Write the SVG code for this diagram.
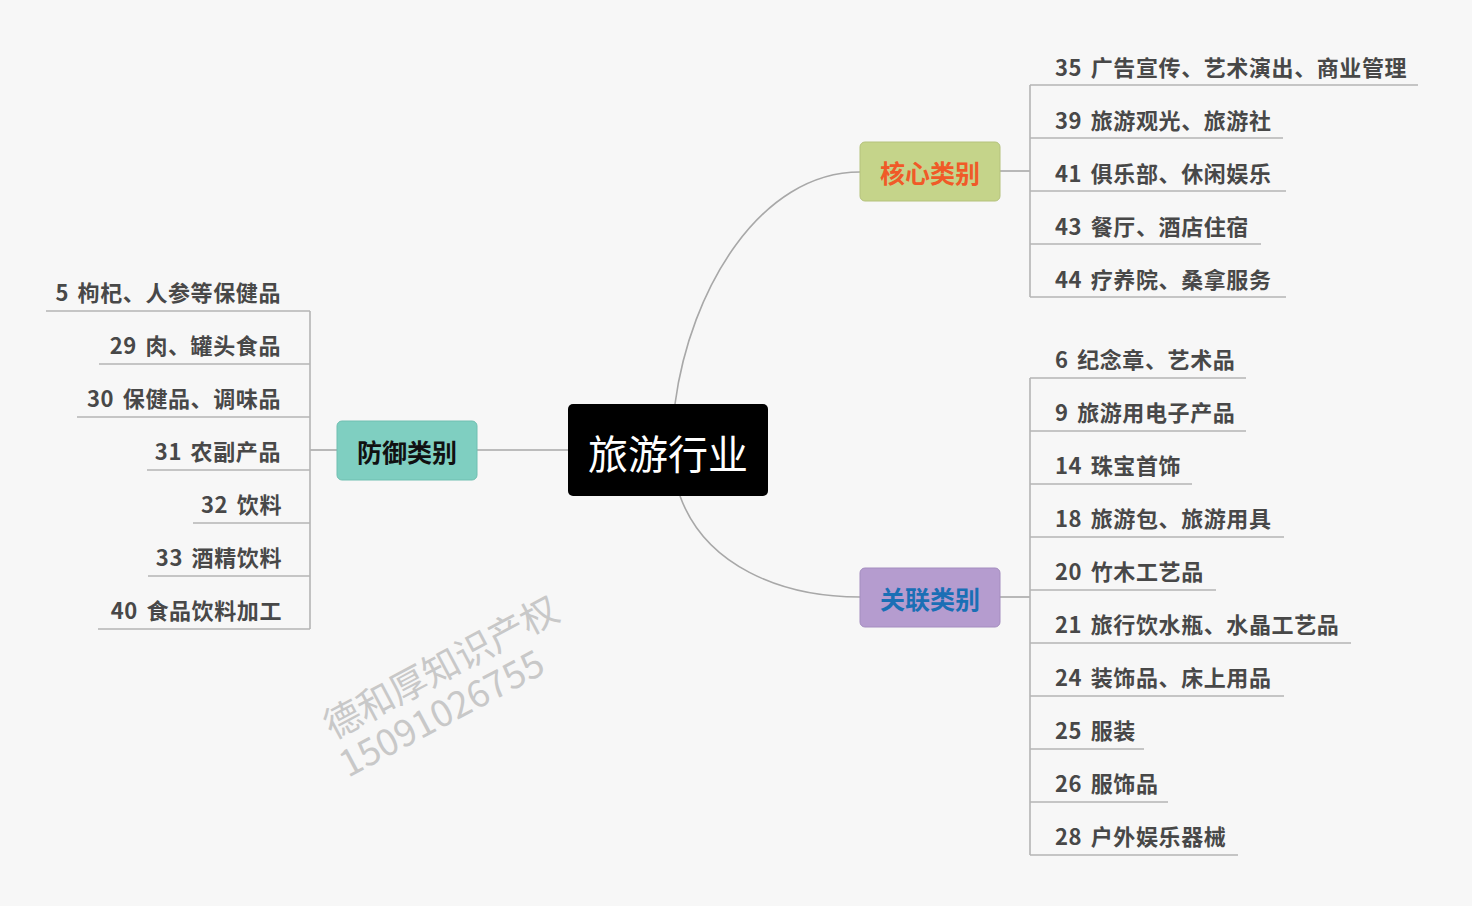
<svg xmlns="http://www.w3.org/2000/svg" width="1472" height="906" viewBox="0 0 1472 906">
<style>
.t{font-family:"Noto Sans CJK SC","Noto Sans",sans-serif;font-weight:bold;font-size:22px;fill:#484848;letter-spacing:0.6px;word-spacing:3px}
.n{font-family:"Noto Sans CJK SC","Noto Sans",sans-serif;font-weight:bold;font-size:25px;text-anchor:middle;dominant-baseline:central}
.l{fill:none;stroke:#b4b4b4;stroke-width:1.6}
.c{fill:none;stroke:#a8a8a8;stroke-width:1.6}
</style>
<rect width="1472" height="906" fill="#f7f7f7"/>
<g id="connectors">
<path class="c" d="M675,404 C690,290 760,172 860,172"/>
<path class="c" d="M680,496 C705,565 780,597 860,597"/>
<path class="c" d="M477,450 H568"/>
<path class="c" d="M1000,171 H1030"/>
<path class="c" d="M1000,597 H1030"/>
<path class="c" d="M310,450 H337"/>
<path class="l" d="M1030,297 V85 M1030,378 V855 M310,311 V629"/>
</g>
<g id="center"><rect x="568" y="404" width="200" height="92" rx="5" fill="#000"/><text x="668" y="452" class="n" style="fill:#fff;font-weight:normal;font-size:40px">旅游行业</text></g>
<g id="core"><rect x="860" y="142" width="140" height="59" rx="5" fill="#c5d48a" stroke="#b5c27c"/><text x="930" y="172" class="n" fill="#f05a28">核心类别</text></g>
<g id="related"><rect x="860" y="568" width="140" height="59" rx="5" fill="#b59ccf" stroke="#a48dbf"/><text x="930" y="598" class="n" fill="#1a6fb5">关联类别</text></g>
<g id="defense"><rect x="337" y="421" width="140" height="59" rx="5" fill="#7fcfc1" stroke="#70bfb1"/><text x="407" y="451" class="n" fill="#111">防御类别</text></g>
<g id="core-items">
<text class="t" x="1055" y="76">35 广告宣传、艺术演出、商业管理</text><path class="l" d="M1030,85 H1418"/>
<text class="t" x="1055" y="129">39 旅游观光、旅游社</text><path class="l" d="M1030,138 H1283"/>
<text class="t" x="1055" y="182">41 俱乐部、休闲娱乐</text><path class="l" d="M1030,191 H1286"/>
<text class="t" x="1055" y="235">43 餐厅、酒店住宿</text><path class="l" d="M1030,244 H1261"/>
<text class="t" x="1055" y="288">44 疗养院、桑拿服务</text><path class="l" d="M1030,297 H1286"/>
</g>
<g id="related-items">
<text class="t" x="1055" y="368">6 纪念章、艺术品</text><path class="l" d="M1030,378 H1246"/>
<text class="t" x="1055" y="421">9 旅游用电子产品</text><path class="l" d="M1030,431 H1246"/>
<text class="t" x="1055" y="474">14 珠宝首饰</text><path class="l" d="M1030,484 H1192"/>
<text class="t" x="1055" y="527">18 旅游包、旅游用具</text><path class="l" d="M1030,537 H1284"/>
<text class="t" x="1055" y="580">20 竹木工艺品</text><path class="l" d="M1030,590 H1216"/>
<text class="t" x="1055" y="633">21 旅行饮水瓶、水晶工艺品</text><path class="l" d="M1030,643 H1351"/>
<text class="t" x="1055" y="686">24 装饰品、床上用品</text><path class="l" d="M1030,696 H1284"/>
<text class="t" x="1055" y="739">25 服装</text><path class="l" d="M1030,749 H1144"/>
<text class="t" x="1055" y="792">26 服饰品</text><path class="l" d="M1030,802 H1168"/>
<text class="t" x="1055" y="845">28 户外娱乐器械</text><path class="l" d="M1030,855 H1238"/>
</g>
<g id="defense-items" style="text-anchor:end">
<text class="t" x="281" y="301">5 枸杞、人参等保健品</text><path class="l" d="M46,311 H310"/>
<text class="t" x="281" y="354">29 肉、罐头食品</text><path class="l" d="M99,364 H310"/>
<text class="t" x="281" y="407">30 保健品、调味品</text><path class="l" d="M77,417 H310"/>
<text class="t" x="281" y="460">31 农副产品</text><path class="l" d="M147,470 H310"/>
<text class="t" x="282" y="513">32 饮料</text><path class="l" d="M193,523 H310"/>
<text class="t" x="282" y="566">33 酒精饮料</text><path class="l" d="M148,576 H310"/>
<text class="t" x="282" y="619">40 食品饮料加工</text><path class="l" d="M98,629 H310"/>
</g>
<g id="watermark" fill="#c8c8c8" style="font-family:'Noto Sans CJK SC',sans-serif;font-size:37px">
<text transform="translate(333,740) rotate(-28)">德和厚知识产权</text>
<text transform="translate(348,778) rotate(-28)">15091026755</text>
</g>
</svg>
